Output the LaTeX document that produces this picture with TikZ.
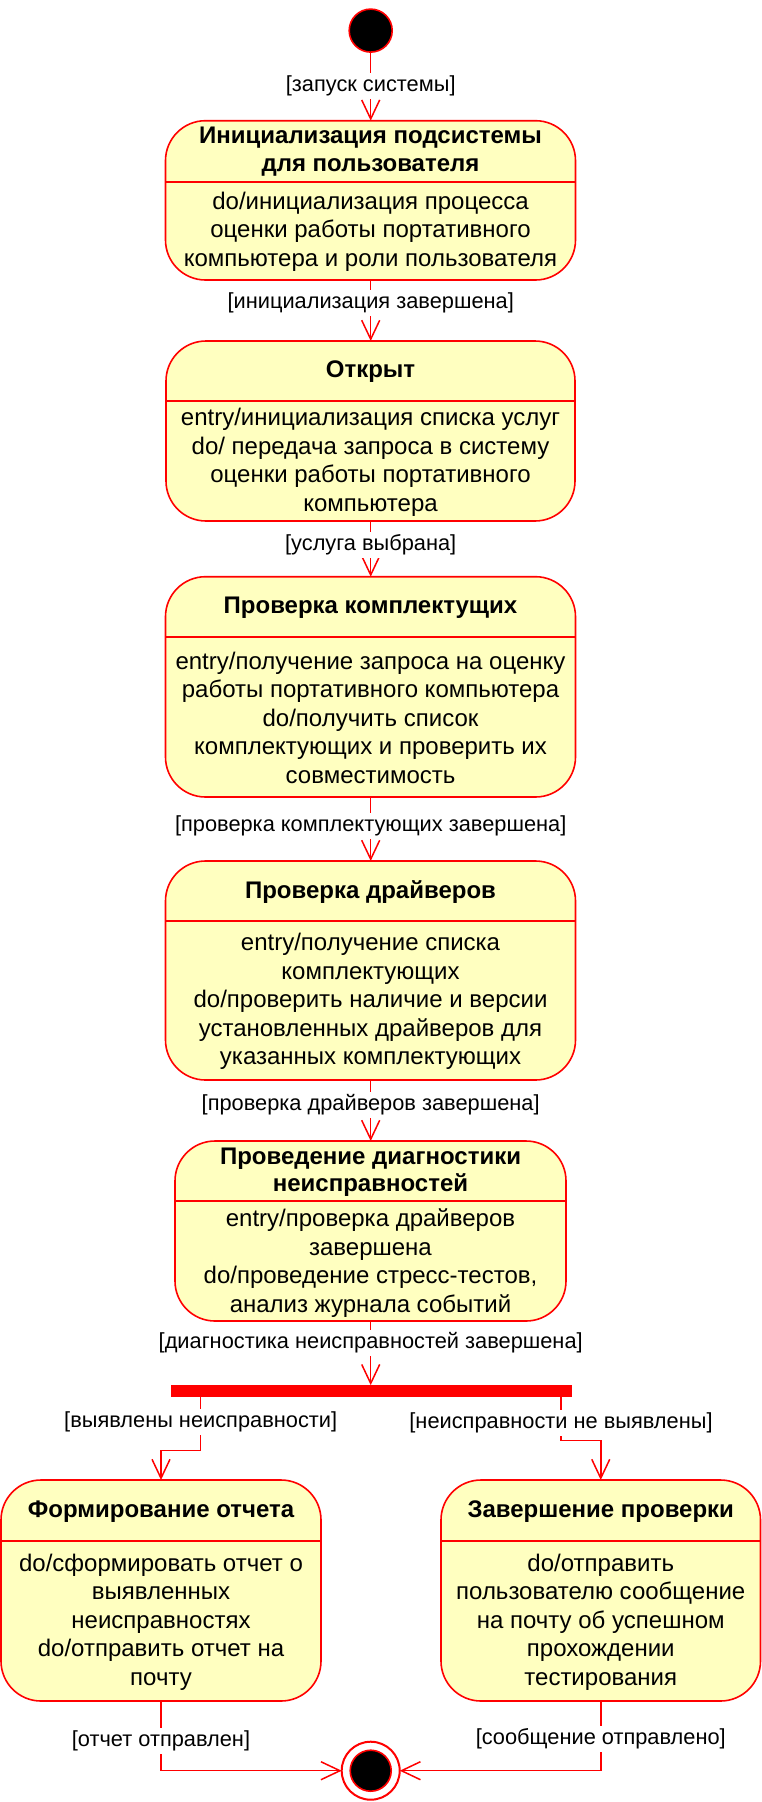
\documentclass[tikz,border=0pt]{standalone}
\usepackage{fontspec}
\setmainfont{Liberation Sans}
\usetikzlibrary{arrows.meta, positioning, calc}
\definecolor{umlred}{HTML}{FF0000}
\definecolor{umlyellow}{HTML}{FFFFC0}

\begin{document}
\begin{tikzpicture}[
    x=1pt, y=-1pt,
    state/.style={rectangle, rounded corners=40pt, draw=umlred, fill=umlyellow, line width=1.6pt, outer sep=0pt},
    divider/.style={draw=umlred, line width=1.6pt},
    stitle/.style={font=\bfseries\fontsize{24}{27.4}\selectfont, align=center, inner sep=0pt},
    sbody/.style={font=\fontsize{24}{28.5}\selectfont, align=center, inner sep=0pt},
    guard/.style={fill=white, font=\fontsize{21.8}{25}\selectfont, inner xsep=1pt, inner ysep=3pt, text height=15.5pt, text depth=4.5pt},
    trans/.style={-{Straight Barb[length=19pt, width=18pt]}, draw=umlred, line width=1.5pt},
    initial/.style={circle, fill=black, draw=umlred, line width=1.6pt, minimum size=43pt, inner sep=0pt, outer sep=0pt},
    finalring/.style={circle, fill=white, draw=umlred, line width=2pt, minimum size=58pt, inner sep=0pt, outer sep=0pt},
    finaldot/.style={circle, fill=black, draw=umlred, line width=1.6pt, minimum size=41pt, inner sep=0pt},
    forkbar/.style={rectangle, fill=umlred, minimum width=400.7pt, minimum height=11.7pt, inner sep=0pt, outer sep=0pt}
]
\useasboundingbox (0,0) rectangle (762,1802);

% Initial state
\node[initial] (init) at (370.7, 30.6) {};

% States
\node[state, minimum width=410pt, minimum height=159.3pt] (s1) at (370.5, 200.35) {};
\draw[divider] ([yshift=-61pt]s1.north west) -- ([yshift=-61pt]s1.north east);
\node[stitle] (s1t) at (370.5, 151.5) {Инициализация подсистемы\\для пользователя};
\node[sbody] (s1b) at (370.5, 231.5) {do/инициализация процесса\\оценки работы портативного\\компьютера и роли пользователя};

\node[state, minimum width=409pt, minimum height=180pt] (s2) at (370.5, 431) {};
\draw[divider] ([yshift=-60pt]s2.north west) -- ([yshift=-60pt]s2.north east);
\node[stitle] (s2t) at (370.5, 372) {Открыт};
\node[sbody] (s2b) at (370.5, 462.5) {entry/инициализация списка услуг\\do/ передача запроса в систему\\оценки работы портативного\\компьютера};

\node[state, minimum width=410pt, minimum height=220.3pt] (s3) at (370.5, 686.85) {};
\draw[divider] ([yshift=-60.3pt]s3.north west) -- ([yshift=-60.3pt]s3.north east);
\node[stitle] (s3t) at (370.5, 607.5) {Проверка комплектущих};
\node[sbody] (s3b) at (370.5, 717.5) {entry/получение запроса на оценку\\работы портативного компьютера\\do/получить список\\комплектующих и проверить их\\совместимость};

\node[state, minimum width=410pt, minimum height=219pt] (s4) at (370.5, 970.5) {};
\draw[divider] ([yshift=-60pt]s4.north west) -- ([yshift=-60pt]s4.north east);
\node[stitle] (s4t) at (370.5, 892) {Проверка драйверов};
\node[sbody] (s4b) at (370.5, 1001.5) {entry/получение списка\\комплектующих\\do/проверить наличие и версии\\установленных драйверов для\\указанных комплектующих};

\node[state, minimum width=391pt, minimum height=180pt] (s5) at (370.5, 1231) {};
\draw[divider] ([yshift=-60pt]s5.north west) -- ([yshift=-60pt]s5.north east);
\node[stitle] (s5t) at (370.5, 1172.5) {Проведение диагностики\\неисправностей};
\node[sbody] (s5b) at (370.5, 1263) {entry/проверка драйверов\\завершена\\do/проведение стресс-тестов,\\анализ журнала событий};

% Fork
\node[forkbar] (fork) at (371.3, 1391) {};

\node[state, minimum width=320pt, minimum height=221pt] (s6) at (161, 1590.5) {};
\draw[divider] ([yshift=-61pt]s6.north west) -- ([yshift=-61pt]s6.north east);
\node[stitle] (s6t) at (161, 1511.5) {Формирование отчета};
\node[sbody] (s6b) at (161, 1622) {do/сформировать отчет о\\выявленных\\неисправностях\\do/отправить отчет на\\почту};

\node[state, minimum width=319.5pt, minimum height=221pt] (s7) at (600.75, 1590.5) {};
\draw[divider] ([yshift=-61pt]s7.north west) -- ([yshift=-61pt]s7.north east);
\node[stitle] (s7t) at (600.75, 1511.5) {Завершение проверки};
\node[sbody] (s7b) at (600.75, 1622) {do/отправить\\пользователю сообщение\\на почту об успешном\\прохождении\\тестирования};

% Final state
\node[finalring] (final) at (370.7, 1770.7) {};
\node[finaldot] (finaldot) at (final) {};

% Transitions
\coordinate (brL) at (200.7, 1450.7);
\coordinate (brR) at (561, 1440.7);
\draw[trans] (init) -- (s1.north -| init) node[guard, pos=.5] {[запуск системы]};
\draw[trans] (s1.south -| init) -- (s2.north -| init) node[guard, pos=.38] {[инициализация завершена]};
\draw[trans] (s2.south -| init) -- (s3.north -| init) node[guard, pos=.43] {[услуга выбрана]};
\draw[trans] (s3.south -| init) -- (s4.north -| init) node[guard, pos=.46] {[проверка комплектующих завершена]};
\draw[trans] (s4.south -| init) -- (s5.north -| init) node[guard, pos=.41] {[проверка драйверов завершена]};
\draw[trans] (s5.south -| init) -- (fork.north -| init) node[guard, pos=.34] {[диагностика неисправностей завершена]};
\draw[trans] (fork.south -| brL) -- node[guard, pos=.46] {[выявлены неисправности]} (brL) -| (s6.north);
\draw[trans] (fork.south -| brR) -- node[guard, pos=.6] {[неисправности не выявлены]} (brR) -| (s7.north);
\draw[trans] (s6.south) |- node[guard, pos=.29] {[отчет отправлен]} (final);
\draw[trans] (s7.south) |- node[guard, pos=.27] {[сообщение отправлено]} (final);

\end{tikzpicture}
\end{document}
